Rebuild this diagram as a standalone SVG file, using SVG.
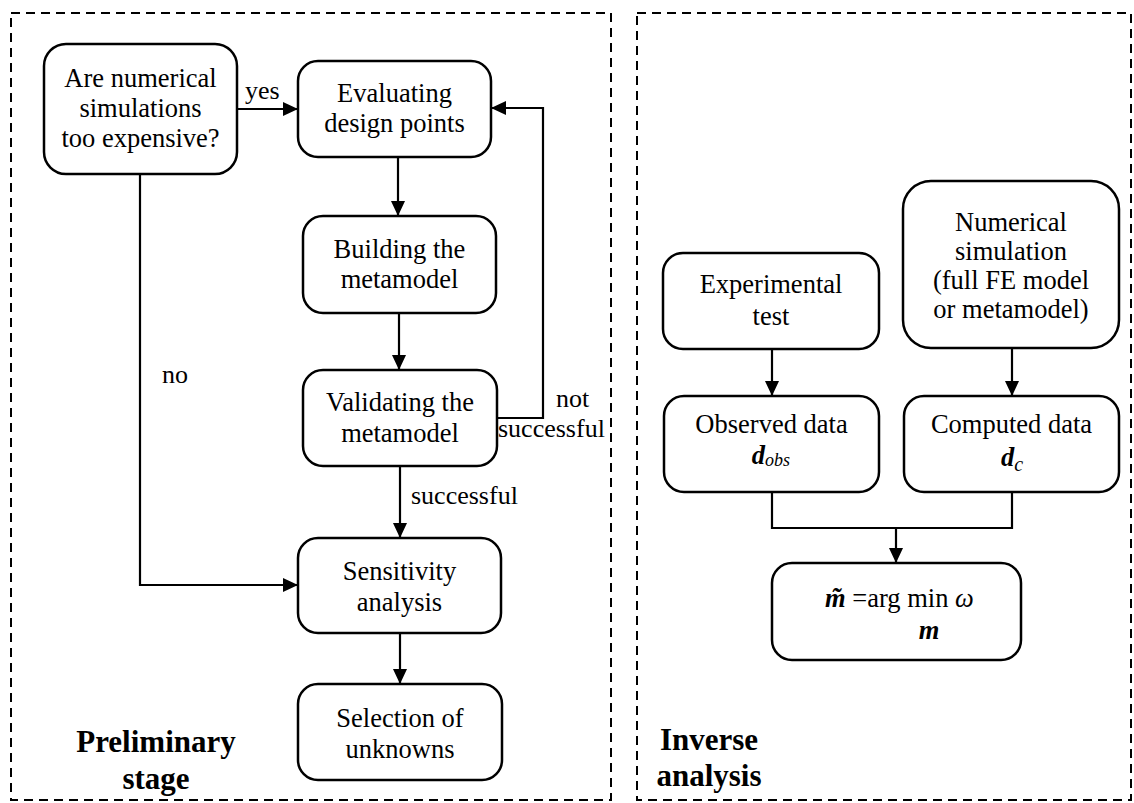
<svg xmlns="http://www.w3.org/2000/svg" width="1134" height="803" viewBox="0 0 1134 803">
<defs>
<style>
.frame{fill:none;stroke:#000;stroke-width:2;stroke-dasharray:9 6}
.box{fill:#fff;stroke:#000;stroke-width:2.5}
.t{font-family:"Liberation Serif","Times New Roman",serif;font-size:26.5px;fill:#000;text-anchor:middle}
.lbl{font-family:"Liberation Serif","Times New Roman",serif;font-size:26px;fill:#000}
.title{font-family:"Liberation Serif","Times New Roman",serif;font-size:31px;font-weight:bold;fill:#000;text-anchor:middle}
.bi{font-weight:bold;font-style:italic}
.it{font-style:italic}
.conn{fill:none;stroke:#000;stroke-width:2.2}
</style>
<marker id="arr" viewBox="0 0 15 14" refX="15" refY="7" markerWidth="15" markerHeight="14" markerUnits="userSpaceOnUse" orient="auto">
<path d="M0,0 L15,7 L0,14 z" fill="#000"/>
</marker>
</defs>
<rect width="1134" height="803" fill="#fff"/>
<g id="frames">
<rect class="frame" x="11" y="13" width="600" height="787"/>
<rect class="frame" x="637" y="13" width="494" height="787"/>
<text class="title" x="156" y="752">Preliminary</text>
<text class="title" x="156" y="789">stage</text>
<text class="title" x="709" y="750">Inverse</text>
<text class="title" x="709" y="786">analysis</text>
</g>
<g id="connectors">
<path class="conn" d="M237,109 L298,109" marker-end="url(#arr)"/>
<path class="conn" d="M398,157 L398,216" marker-end="url(#arr)"/>
<path class="conn" d="M399,313 L399,370" marker-end="url(#arr)"/>
<path class="conn" d="M497,418 L543,418 L543,108 L491,108" marker-end="url(#arr)"/>
<path class="conn" d="M400,466 L400,538" marker-end="url(#arr)"/>
<path class="conn" d="M140,174 L140,585 L298,585" marker-end="url(#arr)"/>
<path class="conn" d="M400,633 L400,684" marker-end="url(#arr)"/>
<path class="conn" d="M772,349 L772,396" marker-end="url(#arr)"/>
<path class="conn" d="M1012,348 L1012,396" marker-end="url(#arr)"/>
<path class="conn" d="M772,492 L772,528 L1012,528 L1012,492"/>
<path class="conn" d="M896,528 L896,563" marker-end="url(#arr)"/>
<text class="lbl" x="245" y="99">yes</text>
<text class="lbl" x="162" y="383">no</text>
<text class="lbl" x="556" y="407">not</text>
<text class="lbl" x="498" y="437">successful</text>
<text class="lbl" x="411" y="504">successful</text>
</g>
<g id="n-question">
<rect class="box" x="44" y="44" width="193" height="130" rx="22"/>
<text class="t" x="140.5" y="87">Are numerical</text>
<text class="t" x="140.5" y="117">simulations</text>
<text class="t" x="140.5" y="147">too expensive?</text>
</g>
<g id="n-evaluating">
<rect class="box" x="298" y="61" width="193" height="96" rx="20"/>
<text class="t" x="394.5" y="102">Evaluating</text>
<text class="t" x="394.5" y="132">design points</text>
</g>
<g id="n-building">
<rect class="box" x="303" y="216" width="193" height="97" rx="20"/>
<text class="t" x="399.5" y="258">Building the</text>
<text class="t" x="399.5" y="288">metamodel</text>
</g>
<g id="n-validating">
<rect class="box" x="303" y="370" width="194" height="96" rx="20"/>
<text class="t" x="400" y="411">Validating the</text>
<text class="t" x="400" y="442">metamodel</text>
</g>
<g id="n-sensitivity">
<rect class="box" x="298" y="538" width="203" height="95" rx="20"/>
<text class="t" x="399.5" y="580">Sensitivity</text>
<text class="t" x="399.5" y="611">analysis</text>
</g>
<g id="n-selection">
<rect class="box" x="298" y="684" width="204" height="96" rx="20"/>
<text class="t" x="400" y="727">Selection of</text>
<text class="t" x="400" y="758">unknowns</text>
</g>
<g id="n-experimental">
<rect class="box" x="663" y="253" width="216" height="96" rx="20"/>
<text class="t" x="771" y="293">Experimental</text>
<text class="t" x="771" y="325">test</text>
</g>
<g id="n-numerical">
<rect class="box" x="903" y="181" width="216" height="167" rx="28"/>
<text class="t" x="1011" y="231">Numerical</text>
<text class="t" x="1011" y="260">simulation</text>
<text class="t" x="1011" y="289">(full FE model</text>
<text class="t" x="1011" y="318">or metamodel)</text>
</g>
<g id="n-observed">
<rect class="box" x="664" y="396" width="215" height="96" rx="20"/>
<text class="t" x="771.5" y="433">Observed data</text>
<text class="t" x="771" y="464"><tspan class="bi">d</tspan><tspan class="it" font-size="18" dy="2">obs</tspan></text>
</g>
<g id="n-computed">
<rect class="box" x="904" y="396" width="215" height="96" rx="20"/>
<text class="t" x="1011.5" y="433">Computed data</text>
<text class="t" x="1012" y="466"><tspan class="bi">d</tspan><tspan class="it" font-size="20" dy="5">c</tspan></text>
</g>
<g id="n-argmin">
<rect class="box" x="772" y="563" width="249" height="97" rx="20"/>
<text class="t" x="825" y="607" style="text-anchor:start"><tspan class="bi">m̃</tspan> =arg min <tspan class="it">ω</tspan></text>
<text class="t" x="929" y="639"><tspan class="bi">m</tspan></text>
</g>
</svg>
